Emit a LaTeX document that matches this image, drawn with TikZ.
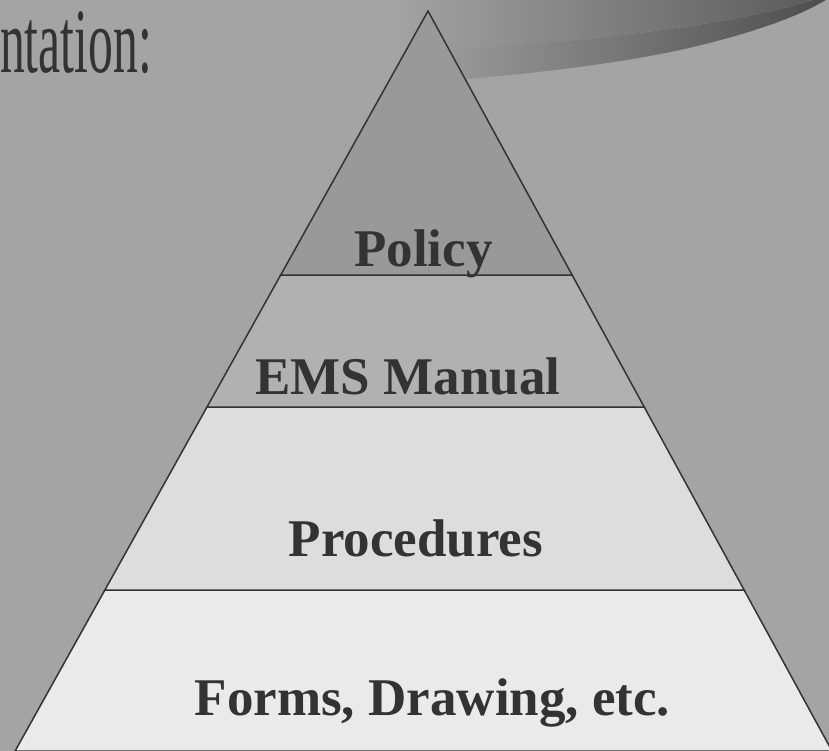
\documentclass[tikz,border=0pt]{standalone}
\usepackage{fontspec}
\setmainfont{Liberation Serif}

\definecolor{bgGray}{RGB}{164,164,164}
\definecolor{lineGray}{RGB}{51,51,51}
\definecolor{textGray}{RGB}{51,51,51}
\definecolor{policyGray}{RGB}{153,153,153}
\definecolor{manualGray}{RGB}{177,177,177}
\definecolor{procGray}{RGB}{221,221,221}
\definecolor{formsGray}{RGB}{234,234,234}
\definecolor{swooshDark}{RGB}{76,76,76}
\definecolor{swooshTop}{RGB}{88,88,88}

\pgfdeclarehorizontalshading{swooshLow}{100bp}{color(0bp)=(bgGray); color(42bp)=(bgGray); color(75bp)=(swooshDark); color(100bp)=(swooshDark)}
\pgfdeclarehorizontalshading{swooshHigh}{100bp}{color(0bp)=(bgGray); color(42bp)=(bgGray); color(75bp)=(swooshTop); color(100bp)=(swooshTop)}

\begin{document}
\begin{tikzpicture}[x=1pt,y=1pt,yscale=-1,
  level/.style={draw=lineGray, line width=1.5},
  label/.style={anchor=base, inner sep=0.75pt, font=\fontsize{53}{60}\selectfont\bfseries, color=textGray}]
\useasboundingbox (0,0) rectangle (829,751);
\clip (0,0) rectangle (829,751);

%Shape: Rectangle (background)
\fill [bgGray] (0,0) rectangle (829,751);

%Shape: Swoosh, lower part
\shade [shading=swooshLow] (160,92) .. controls (350,92) and (560,76) .. (680,50) .. controls (760,32) and (810,12) .. (835,-6) -- (835,-8) .. controls (780,15) and (640,40) .. (430,50) .. controls (300,55) and (220,57) .. (160,60) -- cycle ;
%Shape: Swoosh, upper part
\shade [shading=swooshHigh] (160,60) .. controls (220,57) and (300,55) .. (430,50) .. controls (640,40) and (780,15) .. (835,-8) -- (835,-12) -- (430,-2) .. controls (300,4) and (220,8) .. (160,12) -- cycle ;

% Text Node
\node (title) [anchor=base east, inner sep=0pt, text=textGray, font=\fontsize{92}{100}\selectfont] at (152,73) {\scalebox{0.54}[1]{ntation:}};

\coordinate (apex) at (428,11);

%Shape: Trapezoid [Forms]
\filldraw [level, fill=formsGray] (104.9,590) -- (744.1,590) -- (832,751) -- (15.1,751) -- cycle ;
%Shape: Trapezoid [Procedures]
\filldraw [level, fill=procGray] (207,407) -- (644.2,407) -- (744.1,590) -- (104.9,590) -- cycle ;
%Shape: Trapezoid [EMS Manual]
\filldraw [level, fill=manualGray] (280.7,275) -- (572.1,275) -- (644.2,407) -- (207,407) -- cycle ;
%Shape: Triangle [Policy]
\filldraw [level, fill=policyGray] (apex) -- (572.1,275) -- (280.7,275) -- cycle ;

% Text Node
\node (policy) [label] at (423.5,266) {Policy};
% Text Node
\node (manual) [label] at (408,394) {EMS Manual};
% Text Node
\node (procedures) [label] at (416,556) {Procedures};
% Text Node
\node (forms) [label] at (432.5,715) {Forms, Drawing, etc.};

\end{tikzpicture}
\end{document}
